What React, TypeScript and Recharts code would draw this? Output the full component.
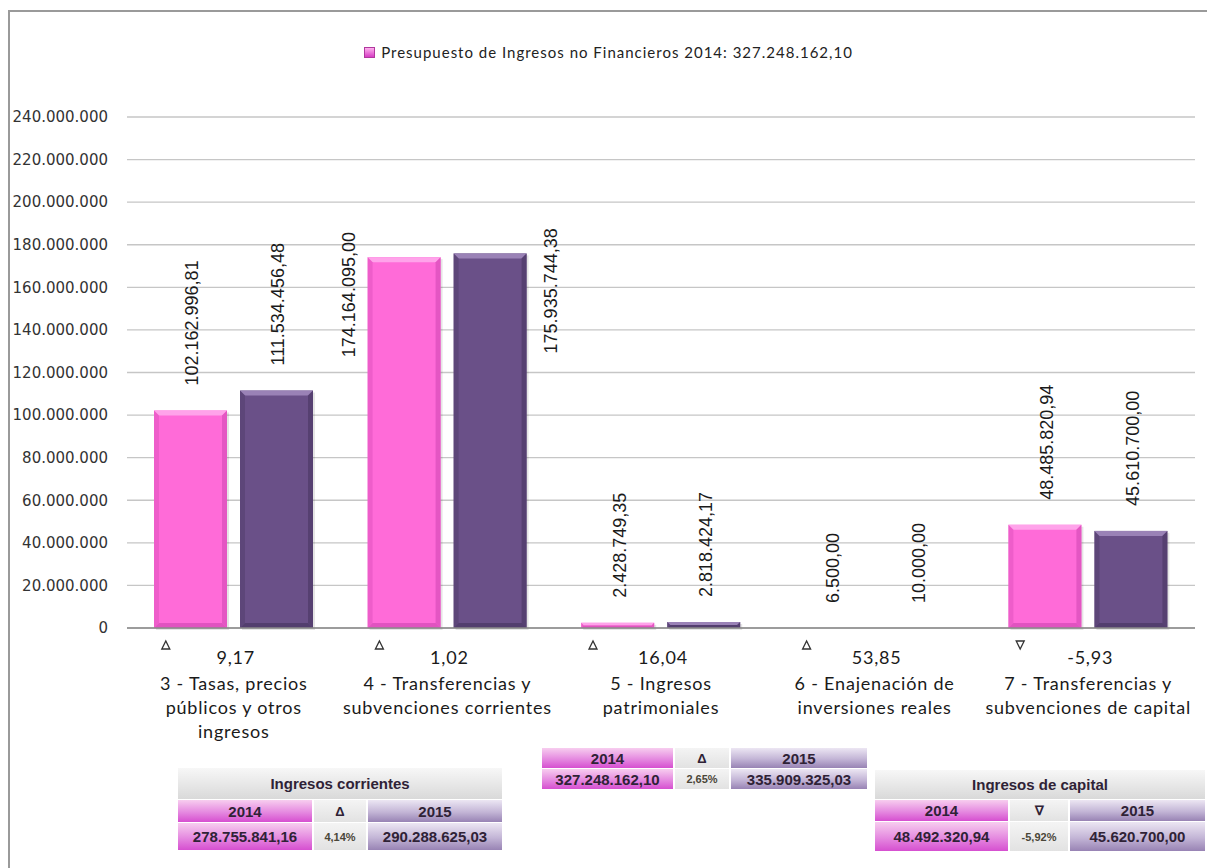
import { BarChart, Bar, XAxis, YAxis, CartesianGrid, LabelList } from 'recharts';

const categories = [
  ['3 - Tasas, precios', 'públicos y otros', 'ingresos'],
  ['4 - Transferencias y', 'subvenciones corrientes'],
  ['5 - Ingresos', 'patrimoniales'],
  ['6 - Enajenación de', 'inversiones reales'],
  ['7 - Transferencias y', 'subvenciones de capital'],
];
const values2014 = [102162996.81, 174164095.0, 2428749.35, 6500.0, 48485820.94];
const values2015 = [111534456.48, 175935744.38, 2818424.17, 10000.0, 45610700.0];
const variation = ['9,17', '1,02', '16,04', '53,85', '-5,93'];
const yTicks = [0, 20000000, 40000000, 60000000, 80000000, 100000000, 120000000, 140000000, 160000000, 180000000, 200000000, 220000000, 240000000];
const legendText = 'Presupuesto de Ingresos no Financieros 2014: 327.248.162,10';

const data = categories.map((lines, i) => ({
  name: lines.join(' '),
  v2014: values2014[i],
  v2015: values2015[i],
}));

const PLOT_TOP = 117;

const fmt = (n: number) => {
  const [i, d] = n.toFixed(2).split('.');
  return i.replace(/\B(?=(\d{3})+(?!\d))/g, '.') + ',' + d;
};
const fmtInt = (n: number) => String(Math.round(n)).replace(/\B(?=(\d{3})+(?!\d))/g, '.');

const colors = {
  pink: { main: '#ff6bd8', light: '#ffa3ea', dark: '#d94dba' },
  purple: { main: '#6a5088', light: '#9a82b6', dark: '#4e3968' },
};

const makeBevel = (c: { main: string; light: string; dark: string }) => (props: any) => {
  const { x, y, width, height } = props;
  if (height <= 0) return null;
  const b = Math.min(5, height / 2);
  return (
    <g>
      <rect x={x + 2} y={y + 2} width={width} height={height} fill="rgba(0,0,0,0.10)" />
      <rect x={x} y={y} width={width} height={height} fill={c.main} />
      <polygon points={`${x},${y} ${x + width},${y} ${x + width - b},${y + b} ${x + b},${y + b}`} fill={c.light} />
      <polygon points={`${x},${y} ${x + b},${y + b} ${x + b},${y + height - b} ${x},${y + height}`} fill={c.dark} opacity={0.45} />
      <polygon points={`${x + width},${y} ${x + width - b},${y + b} ${x + width - b},${y + height - b} ${x + width},${y + height}`} fill={c.dark} opacity={0.7} />
      <polygon points={`${x},${y + height} ${x + b},${y + height - b} ${x + width - b},${y + height - b} ${x + width},${y + height}`} fill={c.dark} opacity={0.8} />
    </g>
  );
};

const makeLabel = (side: 'left' | 'right') => (props: any) => {
  const { x, y, width, value } = props;
  const textLen = 135;
  let tx = x + width / 2 + 2;
  let ty = y - 25;
  if (ty - textLen < PLOT_TOP) {
    tx = side === 'left' ? x - 19 : x + width + 24;
    ty = y + 100;
  }
  return (
    <text
      x={tx}
      y={ty}
      transform={`rotate(-90 ${tx} ${ty})`}
      textAnchor="start"
      dominantBaseline="central"
      fontFamily="Liberation Sans, Arial, sans-serif"
      fontSize={18}
      fill="#1a1a1a"
    >
      {fmt(value)}
    </text>
  );
};

const CategoryTick = (props: any) => {
  const { x, payload } = props;
  const i = payload.index;
  const up = !variation[i].startsWith('-');
  const tx = x - 68;
  const ty = 645;
  const tri = up
    ? `M${tx - 4},${ty + 4} L${tx + 4},${ty + 4} L${tx},${ty - 4} Z`
    : `M${tx - 4},${ty - 4} L${tx + 4},${ty - 4} L${tx},${ty + 4} Z`;
  return (
    <g fontFamily="Lato, sans-serif" fontSize={18} letterSpacing={0.8} fill="#1a1a1a">
      <path d={tri} fill="none" stroke="#333" strokeWidth={1.3} />
      <text x={x + 2} y={657} textAnchor="middle" dominantBaseline="central">
        {variation[i]}
      </text>
      {categories[i].map((line, k) => (
        <text key={k} x={x} y={683 + k * 24} textAnchor="middle" dominantBaseline="central">
          {line}
        </text>
      ))}
    </g>
  );
};

const pinkGrad = 'linear-gradient(#f7cdef, #e58ae0 55%, #d64fd0)';
const purpleGrad = 'linear-gradient(#ece6f3, #c3b5d6 55%, #9883b4)';
const grayGrad = 'linear-gradient(#f7f7f7, #d9d9d9)';
const midGrad = 'linear-gradient(#f4f4f4, #e2e2e2)';

const cellBase: React.CSSProperties = {
  position: 'absolute',
  display: 'flex',
  alignItems: 'center',
  justifyContent: 'center',
  fontFamily: 'Liberation Sans, Arial, sans-serif',
  fontWeight: 'bold',
  fontSize: 15,
  color: '#2f2236',
};

type TableProps = {
  left: number;
  top: number;
  header?: string;
  headerH?: number;
  rowH: [number, number];
  widths: [number, number, number];
  down?: boolean;
  v1: string;
  pct: string;
  v2: string;
};

const SummaryTable = ({ left, top, header, headerH = 0, rowH, widths, down, v1, pct, v2 }: TableProps) => {
  const total = widths[0] + widths[1] + widths[2] + 4;
  const r1 = top + (header ? headerH + 1 : 0);
  const r2 = r1 + rowH[0] + 1;
  const xs = [left, left + widths[0] + 2, left + widths[0] + widths[1] + 4];
  const bgs = [pinkGrad, midGrad, purpleGrad];
  const row1 = ['2014', down ? '∇' : 'Δ', '2015'];
  const row2 = [v1, pct, v2];
  return (
    <>
      {header && (
        <div style={{ ...cellBase, left, top, width: total, height: headerH, background: grayGrad, fontSize: 15 }}>{header}</div>
      )}
      {row1.map((t, k) => (
        <div key={'a' + k} style={{ ...cellBase, left: xs[k], top: r1, width: widths[k], height: rowH[0], background: bgs[k], fontSize: k === 1 ? 13 : 15 }}>
          {t}
        </div>
      ))}
      {row2.map((t, k) => (
        <div key={'b' + k} style={{ ...cellBase, left: xs[k], top: r2, width: widths[k], height: rowH[1], background: bgs[k], fontSize: k === 1 ? 11 : 15, color: k === 1 ? '#4a4638' : '#2f2236' }}>
          {t}
        </div>
      ))}
    </>
  );
};

export default function App() {
  return (
    <div style={{ position: 'absolute', left: 0, top: 0, width: 1207, height: 868, background: '#fff', overflow: 'hidden' }}>
      <div style={{ position: 'absolute', left: 8, top: 10, width: 1199, height: 858, borderLeft: '2px solid #9a9a9a', borderTop: '2px solid #9a9a9a' }} />
      <div style={{ position: 'absolute', left: 0, top: 0 }}>
        <BarChart
          width={1207}
          height={868}
          data={data}
          margin={{ top: PLOT_TOP, right: 12, bottom: 110, left: 7 }}
          barSize={73}
          barGap={13}
        >
          <CartesianGrid vertical={false} stroke="#c6c6c6" strokeWidth={1.3} />
          <YAxis
            width={120}
            domain={[0, 240000000]}
            ticks={yTicks}
            tickFormatter={fmtInt}
            axisLine={false}
            tickLine={false}
            tickMargin={13}
            tick={{ fill: '#333', fontSize: 15, fontFamily: 'DejaVu Sans, sans-serif' }}
          />
          <XAxis
            dataKey="name"
            height={130}
            interval={0}
            tickLine={false}
            axisLine={{ stroke: '#8a8a8a', strokeWidth: 1.5 }}
            tick={<CategoryTick />}
          />
          <Bar dataKey="v2014" isAnimationActive={false} shape={makeBevel(colors.pink)}>
            <LabelList dataKey="v2014" content={makeLabel('left')} />
          </Bar>
          <Bar dataKey="v2015" isAnimationActive={false} shape={makeBevel(colors.purple)}>
            <LabelList dataKey="v2015" content={makeLabel('right')} />
          </Bar>
        </BarChart>
      </div>
      <div style={{ position: 'absolute', left: 0, top: 43, width: 1217, display: 'flex', alignItems: 'center', justifyContent: 'center', fontFamily: 'Lato, sans-serif', fontSize: 15, color: '#222', letterSpacing: 1 }}>
        <span style={{ display: 'inline-block', width: 9, height: 9, marginRight: 6, background: 'linear-gradient(#ffb0ee, #d63cc4)', border: '1px solid #b0389e' }} />
        {legendText}
      </div>
      <SummaryTable left={178} top={768} header="Ingresos corrientes" headerH={31} rowH={[22, 27]} widths={[134, 52, 134]} v1="278.755.841,16" pct="4,14%" v2="290.288.625,03" />
      <SummaryTable left={542} top={748} rowH={[20, 20]} widths={[131, 54, 136]} v1="327.248.162,10" pct="2,65%" v2="335.909.325,03" />
      <SummaryTable left={875} top={770} header="Ingresos de capital" headerH={29} rowH={[21, 29]} widths={[133, 58, 135]} down v1="48.492.320,94" pct="-5,92%" v2="45.620.700,00" />
    </div>
  );
}
